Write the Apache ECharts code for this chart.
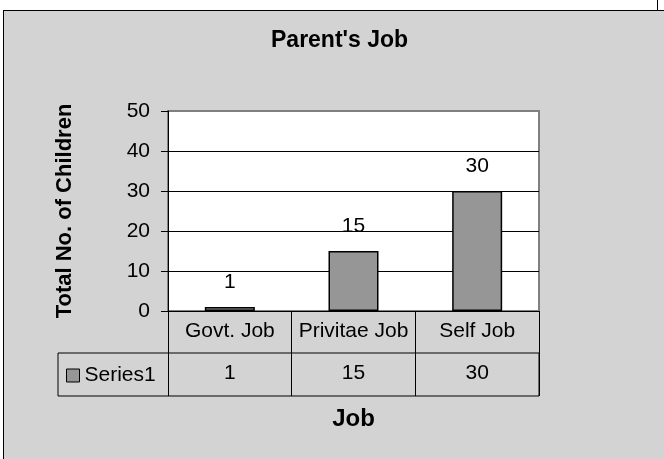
<!DOCTYPE html>
<html>
<head>
<meta charset="utf-8">
<script src="https://cdn.jsdelivr.net/npm/echarts@6/dist/echarts.min.js"></script>
<style>
  html, body { margin: 0; padding: 0; background: #fff; }
  #frame { position: absolute; left: 3px; top: 10px; width: 700px; height: 460px;
           background: #d3d3d3; border-left: 1px solid #000; border-top: 1px solid #000; }
  #notch { position: absolute; left: 657px; top: 0; width: 0; height: 10px; border-left: 1px solid #000; }
  #main { position: absolute; left: 0; top: 0; width: 664px; height: 459px; }
</style>
</head>
<body>
<div id="frame"></div>
<div id="notch"></div>
<div id="main"></div>
<script>
// 数据
var categories = ['Govt. Job', 'Privitae Job', 'Self Job'];
var seriesName = 'Series1';
var values = [1, 15, 30];
var yTicks = [0, 10, 20, 30, 40, 50];

var font = 'Liberation Sans, Arial, sans-serif';
var myChart = echarts.init(document.getElementById('main'), null, { renderer: 'canvas' });

var option = {
    backgroundColor: 'transparent',
    animation: false,
    textStyle: { fontFamily: font },
    //标题
    title: {
        text: "Parent's Job",
        left: 271, top: 29, padding: 0,
        textStyle: { fontFamily: font, fontSize: 23, fontWeight: 'bold', color: '#000' }
    },
    //图例 (数据表左下角)
    legend: {
        data: [seriesName],
        left: 66, top: 365, padding: 0,
        icon: 'rect', itemWidth: 13, itemHeight: 13,
        itemStyle: { color: '#969696', borderColor: '#000', borderWidth: 1 },
        textStyle: { fontFamily: font, fontSize: 21, color: '#000' }
    },
    grid: [
        // 绘图区
        { left: 168, top: 111, width: 371, height: 200, show: true,
          backgroundColor: '#fff', borderColor: '#808080', borderWidth: 2 },
        // 数据表的 Series1 行外框
        { left: 58, top: 353, width: 481, height: 43, show: true,
          backgroundColor: 'transparent', borderColor: '#000', borderWidth: 1 }
    ],
    xAxis: [
        { type: 'category', gridIndex: 0, data: categories,
          name: 'Job', nameLocation: 'middle', nameGap: 96,
          nameTextStyle: { fontFamily: font, fontSize: 24, fontWeight: 'bold', color: '#000' },
          axisLine: { lineStyle: { color: '#000', width: 1 } },
          axisTick: { show: true, interval: 0, length: 85, lineStyle: { color: '#000', width: 1 } },
          axisLabel: { interval: 0, margin: 10, fontSize: 21, color: '#000', fontFamily: font },
          splitLine: { show: false } },
        // 数据表中的数值行
        { type: 'category', gridIndex: 0, position: 'bottom', offset: 42,
          data: values.map(String),
          axisLine: { show: false }, axisTick: { show: false },
          axisLabel: { interval: 0, margin: 10, fontSize: 21, color: '#000', fontFamily: font } },
        { type: 'category', gridIndex: 1, show: false, data: categories }
    ],
    yAxis: [
        { type: 'value', gridIndex: 0, min: yTicks[0], max: yTicks[yTicks.length - 1], interval: 10,
          name: 'Total No. of Children', nameLocation: 'middle', nameGap: 92,
          nameTextStyle: { fontFamily: font, fontSize: 22, fontWeight: 'bold', color: '#000' },
          axisLine: { show: true, lineStyle: { color: '#000', width: 1 } },
          axisTick: { show: true, length: 7, lineStyle: { color: '#000' } },
          axisLabel: { margin: 18, fontSize: 21, color: '#000', fontFamily: font },
          splitLine: { show: true, lineStyle: { color: ['#000', '#000', '#000', '#000', '#000', '#808080'], width: 1 } } },
        { type: 'value', gridIndex: 1, show: false }
    ],
    series: [{
        name: seriesName,
        type: 'bar',
        xAxisIndex: 0, yAxisIndex: 0,
        data: values,
        barWidth: 50,
        itemStyle: { color: '#969696', borderColor: '#000', borderWidth: 1.5 },
        label: { show: true, position: 'top', distance: 14, fontSize: 21, color: '#000', fontFamily: font }
    }]
};

myChart.setOption(option);
</script>
</body>
</html>
